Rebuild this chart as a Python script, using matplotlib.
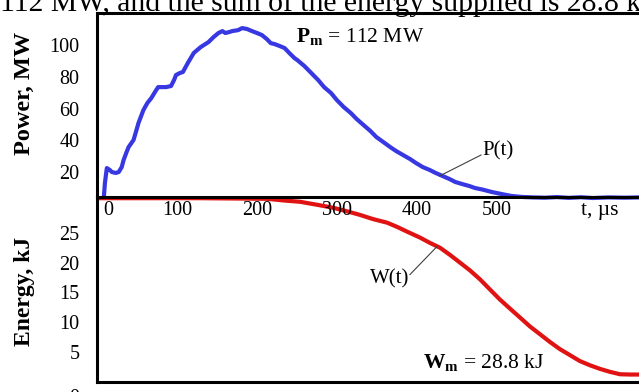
import matplotlib
matplotlib.use('Agg')
import matplotlib.pyplot as plt
import matplotlib.transforms as mtransforms

plt.rcParams['font.family'] = 'Liberation Serif'
plt.rcParams['mathtext.fontset'] = 'custom'
plt.rcParams['mathtext.rm'] = 'Liberation Serif'
plt.rcParams['mathtext.bf'] = 'Liberation Serif:bold'

# power P(t), MW  (t in microseconds)
t_p = [8.6, 9.9, 12.3, 16.0, 18.5, 23.5, 27.2, 30.9, 33.3, 37.0, 39.5, 45.7, 49.4, 51.9,
       58.0, 63.0, 67.9, 74.1, 76.5, 81.5, 86.4, 92.6, 96.3, 98.8, 103.7, 107.4, 113.6,
       121.0, 129.6, 139.5, 145.7, 151.9, 156.8, 160.5, 165.4, 169.1, 176.5, 181.5, 187.7,
       193.8, 200.0, 206.2, 212.3, 217.3, 222.2, 228.4, 234.6, 240.7, 246.9, 250.6, 259.3,
       267.9, 276.5, 284.0, 292.6, 300.0, 308.6, 317.3, 324.7, 333.3, 342.0, 349.4, 358.0,
       366.7, 374.1, 382.7, 391.4, 398.8, 407.4, 416.0, 423.5, 432.1, 440.7, 448.1, 456.8,
       465.4, 472.8, 481.5, 493.8, 506.2, 518.5, 530.9, 545, 560, 575, 590, 605, 620,
       640, 660, 678]
p_mw = [4.3, 13.1, 22.5, 21.3, 20.0, 19.4, 20.0, 23.1, 27.6, 32.6, 35.7, 40.2, 46.5, 50.9,
        59.0, 63.5, 66.6, 71.7, 73.5, 73.5, 73.5, 74.2, 77.9, 81.1, 82.4, 83.0, 88.7,
        95.0, 98.7, 101.9, 105.0, 107.6, 108.8, 107.6, 108.2, 108.8, 109.4, 110.7, 110.1,
        108.8, 107.6, 106.3, 103.8, 101.2, 100.6, 99.4, 98.1, 94.9, 91.8, 90.5, 86.8,
        82.4, 78.0, 73.5, 69.8, 65.3, 60.9, 57.2, 53.4, 49.6, 45.8, 42.0, 38.9,
        35.7, 33.2, 30.7, 28.2, 25.7, 23.1, 21.3, 19.4, 17.5, 15.6, 13.7, 12.4,
        11.2, 9.9, 9.0, 7.4, 6.1, 4.9, 4.3, 4.0, 3.8, 4.2, 3.7, 4.1, 3.6,
        4.0, 3.8, 4.0]

# energy curve W(t), kJ
t_w = [8.6, 74.0, 135.8, 176.5, 218.5, 240.7, 259.3, 280.2, 300.0, 317.3, 333.3, 349.4,
       366.7, 379.0, 391.4, 407.4, 419.8, 432.1, 444.4, 456.8, 469.1, 481.5, 493.8, 506.2,
       518.5, 530.9, 543.2, 555.6, 567.9, 580.2, 592.6, 604.9, 617.3, 629.6, 642.0, 654.3,
       666.7, 677.8]
w_kj = [30.8, 30.8, 30.8, 30.75, 30.7, 30.4, 30.2, 29.7, 29.2, 28.6, 28.0, 27.3,
        26.7, 26.0, 25.2, 24.2, 23.3, 22.5, 21.3, 20.0, 18.7, 17.2, 15.5, 13.8,
        12.3, 10.8, 9.3, 8.0, 6.7, 5.5, 4.5, 3.5, 2.8, 2.2, 1.7, 1.3,
        1.25, 1.25]

t_ticks = [0, 100, 200, 300, 400, 500]
p_ticks = [20, 40, 60, 80, 100]
w_ticks = [0, 5, 10, 15, 20, 25]

fig = plt.figure(figsize=(6.39, 3.92), dpi=100)
# lower panel first so the time labels of the upper panel stay on top
axw = fig.add_axes([97/639, 1-382/392, 542/639, 185/392])
axp = fig.add_axes([97/639, 1-197/392, 542/639, 184/392])
axw.patch.set_alpha(0)

axp.plot(t_p, p_mw, color='#3838e2', lw=3, clip_on=False, solid_joinstyle='round')
axw.plot(t_w, w_kj, color='#e01212', lw=3, solid_joinstyle='round')

for ax in (axp, axw):
    ax.set_xlim(8.6, 677.8)
    ax.spines['right'].set_visible(False)
    for s in ('left', 'top', 'bottom'):
        ax.spines[s].set_linewidth(2.2)
    ax.tick_params(length=0, labelsize=14.5)
    ax.tick_params(axis='y', pad=12.5)

axw.spines['top'].set_visible(False)
axp.set_ylim(4.25, 120.2)
axw.set_ylim(0, 31)

axp.set_xticks(t_ticks)
axp.tick_params(axis='x', pad=3)
axp.set_yticks(p_ticks)
axw.set_xticks([])
axw.set_yticks(w_ticks)

axp.set_xlabel('t, µs', fontsize=15.5, va='center')
axp.xaxis.set_label_coords(0.928, -0.072)

axp.set_ylabel('Power, MW', fontsize=17.5, fontweight='bold', va='center')
axp.yaxis.set_label_coords(-0.133, 0.565)
axw.set_ylabel('Energy, kJ', fontsize=17, fontweight='bold', va='center')
axw.yaxis.set_label_coords(-0.133, 0.492)

# annotations
axp.text(249, 105, r'$\mathbf{P}_\mathbf{m}$ = 112 MW', fontsize=15.5, va='center')
axp.text(502, 33.2, 'P(t)', fontsize=15, ha='center', va='center')
axp.plot([428.4, 480.2], [17.5, 30.7], color='#404040', lw=0.8)
axw.text(370, 17.2, 'W(t)', fontsize=15, ha='center', va='center')
axw.plot([395, 428.4], [18.0, 22.7], color='#404040', lw=0.8)
axw.text(411, 3.2, r'$\mathbf{W}_\mathbf{m}$ = 28.8 kJ', fontsize=15.5, va='center')

# cut-off line of the surrounding text
fig.text(0.0, 1-11/392, '112 MW, and the sum of the energy supplied is 28.8 kJ',
         fontsize=21.3, ha='left', va='baseline')


def shift(lbl, dx, dy):
    off = mtransforms.ScaledTranslation(dx/72, dy/72, fig.dpi_scale_trans)
    lbl.set_transform(lbl.get_transform() + off)


shift(axp.get_xticklabels()[0], 8, 0)
shift(axw.get_yticklabels()[0], 0, -10)

fig.savefig('out.png', dpi=100)
